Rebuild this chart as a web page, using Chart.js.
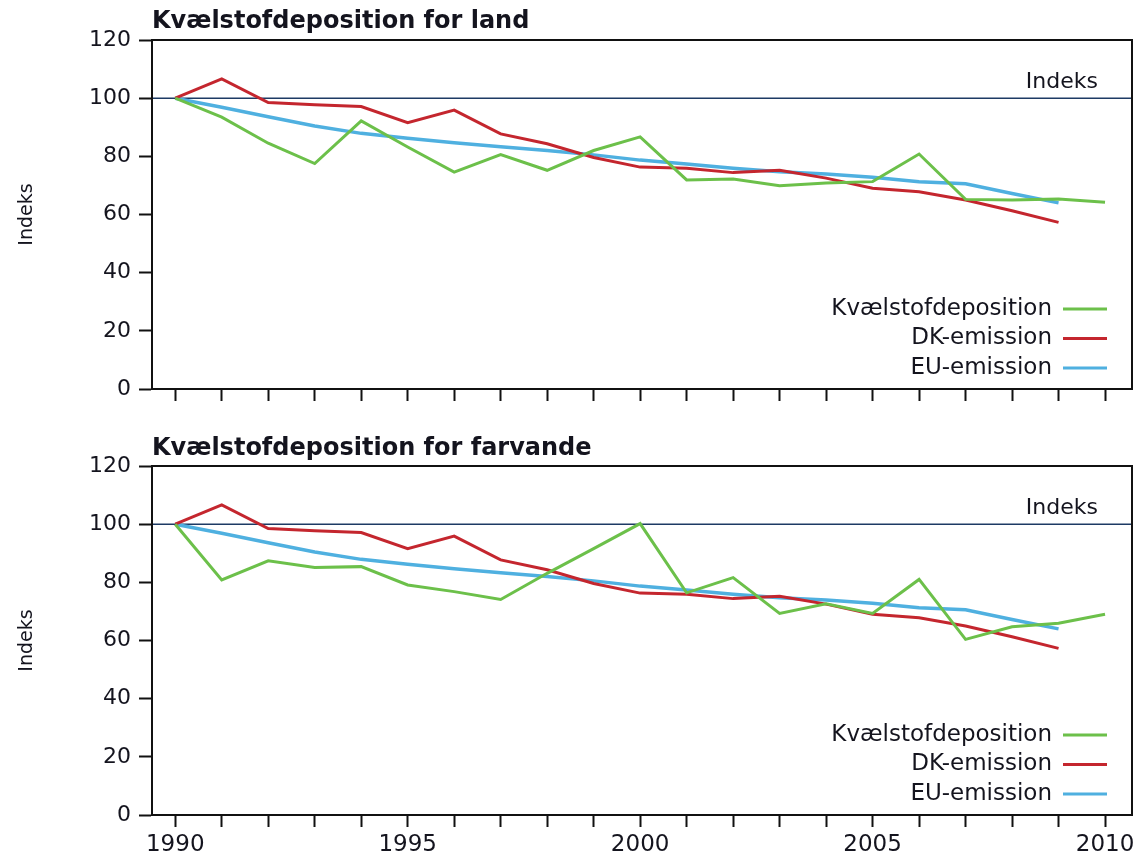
<!DOCTYPE html>
<html>
<head>
<meta charset="utf-8">
<script src="https://cdn.jsdelivr.net/npm/chart.js@4.4.0/dist/chart.umd.min.js"></script>
<style>
  html, body { margin: 0; padding: 0; background: #fff; }
  .panel { position: relative; width: 1142px; }
  #p1 { height: 430px; }
  #p2 { height: 431px; }
</style>
</head>
<body>
<div class="panel" id="p1"><canvas id="landChart"></canvas></div>
<div class="panel" id="p2"><canvas id="seaChart"></canvas></div>
<script>
const years = [1990, 1991, 1992, 1993, 1994, 1995, 1996, 1997, 1998, 1999, 2000,
               2001, 2002, 2003, 2004, 2005, 2006, 2007, 2008, 2009, 2010];

const landDeposition = [100, 93.5, 84.5, 77.5, 92.2, 83.2, 74.6, 80.6, 75.2, 82, 86.7,
                        71.9, 72.2, 69.9, 70.8, 71.3, 80.8, 65.2, 65, 65.3, 64.2];
const seaDeposition = [100, 80.8, 87.4, 85.1, 85.4, 79.1, 76.8, 74.1, 83.1, 91.6, 100.2,
                       76.4, 81.6, 69.3, 72.6, 69.3, 81, 60.4, 64.7, 65.9, 69];
// emissions stop at 2009
const dkEmission = [100, 106.6, 98.5, 97.7, 97.1, 91.6, 95.9, 87.7, 84.3, 79.6,
                    76.3, 75.9, 74.4, 75.2, 72.5, 69, 67.8, 65, 61.3, 57.3];
const euEmission = [100, 96.9, 93.6, 90.4, 87.9, 86.2, 84.7, 83.3, 82, 80.5,
                    78.7, 77.4, 75.9, 74.7, 73.9, 72.8, 71.3, 70.6, 67.2, 64];

const seriesLabels = ['Kvælstofdeposition', 'DK-emission', 'EU-emission'];
const seriesColors = ['#6cc04a', '#c4262e', '#4fb0e0'];
const yTicks = [0, 20, 40, 60, 80, 100, 120];
const referenceLevel = 100;

const textColor = '#14141e';
const fontFamily = '"DejaVu Sans", Verdana, sans-serif';
Chart.defaults.font.family = fontFamily;
Chart.defaults.color = textColor;

function toPoints(values) {
    return values.map((v, i) => ({ x: years[i], y: v }));
}

const panelExtras = {
    id: 'panelExtras',
    beforeDatasetsDraw(chart) {
        const { ctx, chartArea: a, scales: { y } } = chart;
        const yRef = y.getPixelForValue(referenceLevel);
        ctx.save();
        ctx.strokeStyle = '#1d3a64';
        ctx.lineWidth = 1.5;
        ctx.beginPath();
        ctx.moveTo(a.left, yRef);
        ctx.lineTo(a.right, yRef);
        ctx.stroke();
        ctx.fillStyle = textColor;
        ctx.font = '22px ' + fontFamily;
        ctx.textAlign = 'right';
        ctx.textBaseline = 'bottom';
        ctx.fillText('Indeks', a.right - 34, yRef - 5);
        ctx.restore();
    },
    afterDraw(chart) {
        const { ctx, chartArea: a } = chart;
        ctx.save();
        // frame round the plot
        ctx.strokeStyle = '#111';
        ctx.lineWidth = 2;
        ctx.strokeRect(a.left, a.top, a.right - a.left, a.bottom - a.top);

        // legend, bottom right inside the plot, sample to the right of the text
        ctx.font = '23px ' + fontFamily;
        ctx.textAlign = 'right';
        ctx.textBaseline = 'middle';
        chart.data.datasets.forEach((ds, i) => {
            const rowY = a.bottom - 80 + i * 29.5;
            ctx.fillStyle = textColor;
            ctx.fillText(ds.label, a.right - 80, rowY);
            ctx.strokeStyle = ds.borderColor;
            ctx.lineWidth = 3;
            ctx.beginPath();
            ctx.moveTo(a.right - 69, rowY);
            ctx.lineTo(a.right - 25, rowY);
            ctx.stroke();
        });
        ctx.restore();
    }
};

function makeChart(canvasId, title, deposition, showYears, titlePad, xHeight) {
    const ctx = document.getElementById(canvasId).getContext('2d');
    return new Chart(ctx, {
        type: 'line',
        data: {
            datasets: [
                { label: seriesLabels[0], data: toPoints(deposition), borderColor: seriesColors[0], borderWidth: 3 },
                { label: seriesLabels[1], data: toPoints(dkEmission), borderColor: seriesColors[1], borderWidth: 3 },
                { label: seriesLabels[2], data: toPoints(euEmission), borderColor: seriesColors[2], borderWidth: 3.5 }
            ]
        },
        options: {
            responsive: true,
            maintainAspectRatio: false,
            animation: false,
            layout: { padding: { left: 0, right: 10, top: 0, bottom: 0 } },
            elements: { point: { radius: 0 }, line: { tension: 0, fill: false } },
            plugins: {
                legend: { display: false },
                tooltip: { enabled: false },
                title: {
                    display: true,
                    text: title,
                    align: 'start',
                    fullSize: false,
                    color: textColor,
                    font: { size: 24, weight: 'bold' },
                    padding: titlePad
                }
            },
            scales: {
                x: {
                    type: 'linear',
                    min: 1989.5,
                    max: 2010.58,
                    afterFit: s => { s.height = xHeight; },
                    grid: { drawOnChartArea: false, drawTicks: true, tickLength: 12, tickWidth: 2, tickColor: '#111' },
                    border: { color: '#111', width: 2 },
                    ticks: {
                        stepSize: 1,
                        autoSkip: false,
                        includeBounds: false,
                        maxRotation: 0,
                        padding: 4,
                        color: textColor,
                        font: { size: 23 },
                        callback: v => (showYears && v % 5 === 0) ? String(v) : ''
                    }
                },
                y: {
                    min: yTicks[0],
                    max: yTicks[yTicks.length - 1],
                    afterFit: s => { s.width = 152; },
                    afterBuildTicks: s => { s.ticks = yTicks.map(v => ({ value: v })); },
                    grid: { drawOnChartArea: false, drawTicks: true, tickLength: 13, tickWidth: 2, tickColor: '#111' },
                    border: { color: '#111', width: 2 },
                    ticks: { padding: 8, color: textColor, font: { size: 22 } },
                    title: {
                        display: true,
                        text: 'Indeks',
                        color: textColor,
                        font: { size: 19 },
                        padding: { top: 16, bottom: 0 }
                    }
                }
            }
        },
        plugins: [panelExtras]
    });
}

makeChart('landChart', 'Kvælstofdeposition for land', landDeposition, false, { top: 7, bottom: 4.2 }, 41);
makeChart('seaChart', 'Kvælstofdeposition for farvande', seaDeposition, true, { top: 4, bottom: 3.2 }, 46);
</script>
</body>
</html>
